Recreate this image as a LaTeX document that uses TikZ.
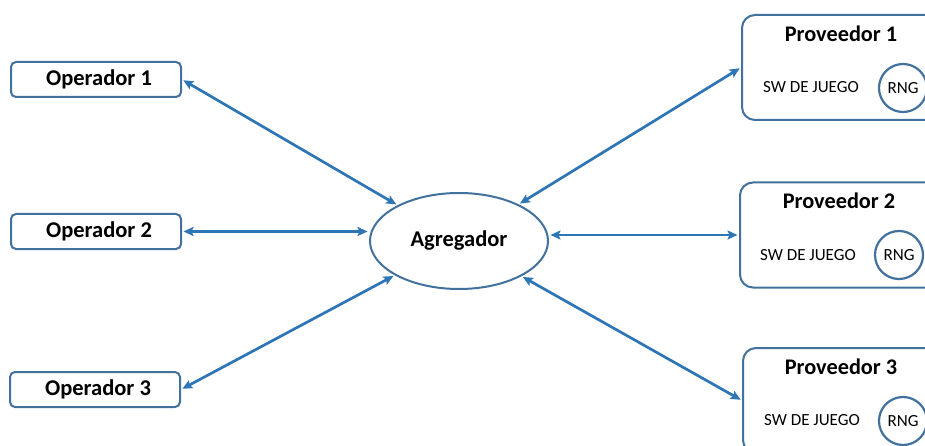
\documentclass[tikz,border=0pt]{standalone}
\usepackage{fontspec}
\setmainfont{Carlito}
\usetikzlibrary{arrows.meta,shapes.geometric}
\definecolor{boxblue}{RGB}{65,113,156}
\definecolor{arrowblue}{RGB}{46,117,182}
\tikzset{
  opbox/.style={draw=boxblue, line width=2pt, rounded corners=5pt, minimum width=170pt, minimum height=35pt, inner sep=0pt, font=\fontsize{22.5}{26}\selectfont\bfseries},
  provbox/.style={draw=boxblue, line width=2pt, rounded corners=13pt, minimum width=200pt, minimum height=105pt, inner sep=0pt},
  aggnode/.style={ellipse, draw=boxblue, line width=2pt, minimum width=178pt, minimum height=96pt, inner sep=0pt, font=\fontsize{22.5}{26}\selectfont\bfseries},
  provtitle/.style={inner sep=0pt, font=\fontsize{22.3}{26}\selectfont\bfseries},
  swtext/.style={inner sep=0pt, font=\fontsize{17}{20}\selectfont},
  rngnode/.style={circle, draw=boxblue, line width=2.2pt, minimum size=48pt, inner sep=0pt, font=\fontsize{17}{20}\selectfont},
  link/.style={draw=arrowblue, line width=2.7pt, {Stealth[length=10pt,width=9pt,inset=2pt]}-{Stealth[length=10pt,width=9pt,inset=2pt]}, shorten <=1.5pt, shorten >=1.5pt}
}
\begin{document}
\begin{tikzpicture}[x=1pt,y=-1pt]
\clip (0,0) rectangle (925,446);
\fill[white] (0,0) rectangle (925,446);
% operators
\node[opbox] (op1) at (96,79.5) {\hspace*{6pt}Operador 1};
\node[opbox] (op2) at (96,231.5) {\hspace*{6pt}Operador 2};
\node[opbox] (op3) at (95,389.5) {\hspace*{6pt}Operador 3};
% aggregator
\node[aggnode] (agg) at (459,241) {Agregador};
% providers
\node[provbox] (p1) at (842,67.5) {};
\node[provbox] (p2) at (840,235) {};
\node[provbox] (p3) at (843,400.5) {};
\node[provtitle] (t1) at (841,34) {Proveedor 1};
\node[provtitle] (t2) at (839,201) {Proveedor 2};
\node[provtitle] (t3) at (841,367) {Proveedor 3};
\node[swtext] (s1) at (811,87) {SW DE JUEGO};
\node[swtext] (s2) at (808,255) {SW DE JUEGO};
\node[swtext] (s3) at (812,420) {SW DE JUEGO};
\node[rngnode] (r1) at (903,88) {RNG};
\node[rngnode] (r2) at (899,255) {RNG};
\node[rngnode] (r3) at (903,421) {RNG};
% links
\draw[link] (op1.east) -- (agg);
\draw[link] (op2.east) -- (op2.east -| agg.west);
\draw[link] (op3.east) -- (agg);
\draw[link] (p1.west) -- (agg);
\draw[link] (p2.west) -- (p2.west -| agg.east);
\draw[link] (p3.west) -- (agg);
\end{tikzpicture}
\end{document}
